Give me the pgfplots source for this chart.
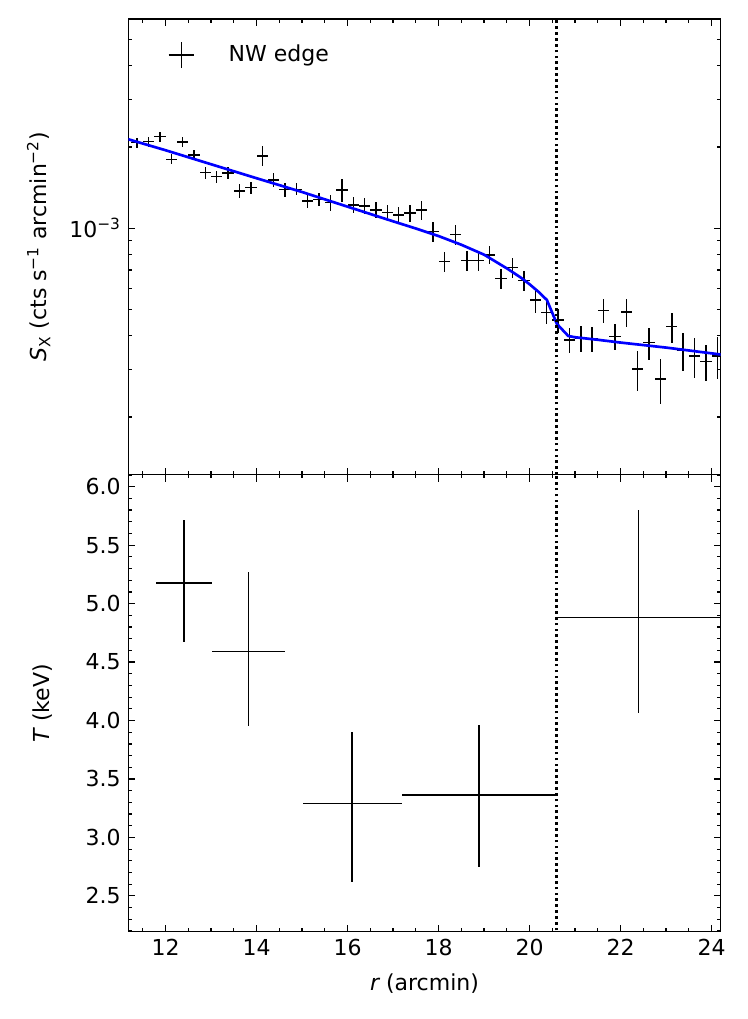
\documentclass[border=0pt]{standalone}
\usepackage{fontspec}
\setmainfont{DejaVu Sans}
\usepackage{pgfplots}
\usepackage{pgfplotstable}
\pgfplotsset{compat=1.18}

\pgfplotstableread{
x y ey
11.375 2.075e-3 0.089e-3
11.625 2.093e-3 0.089e-3
11.875 2.184e-3 0.093e-3
12.125 1.801e-3 0.077e-3
12.375 2.083e-3 0.089e-3
12.625 1.869e-3 0.080e-3
12.875 1.607e-3 0.082e-3
13.125 1.553e-3 0.080e-3
13.375 1.599e-3 0.082e-3
13.625 1.375e-3 0.082e-3
13.875 1.414e-3 0.072e-3
14.125 1.853e-3 0.158e-3
14.375 1.510e-3 0.090e-3
14.625 1.394e-3 0.083e-3
14.875 1.394e-3 0.071e-3
15.125 1.262e-3 0.075e-3
15.375 1.280e-3 0.076e-3
15.625 1.244e-3 0.085e-3
15.875 1.386e-3 0.130e-3
16.125 1.220e-3 0.083e-3
16.375 1.209e-3 0.083e-3
16.625 1.169e-3 0.080e-3
16.875 1.142e-3 0.078e-3
17.125 1.120e-3 0.076e-3
17.375 1.137e-3 0.078e-3
17.625 1.169e-3 0.095e-3
17.875 0.971e-3 0.083e-3
18.125 0.752e-3 0.064e-3
18.375 0.950e-3 0.081e-3
18.625 0.759e-3 0.065e-3
18.875 0.759e-3 0.065e-3
19.125 0.796e-3 0.061e-3
19.375 0.653e-3 0.056e-3
19.625 0.715e-3 0.061e-3
19.875 0.640e-3 0.055e-3
20.125 0.543e-3 0.056e-3
20.375 0.487e-3 0.046e-3
20.625 0.457e-3 0.047e-3
20.875 0.386e-3 0.040e-3
21.125 0.391e-3 0.042e-3
21.375 0.389e-3 0.042e-3
21.625 0.495e-3 0.051e-3
21.875 0.397e-3 0.044e-3
22.125 0.489e-3 0.058e-3
22.375 0.301e-3 0.051e-3
22.625 0.377e-3 0.052e-3
22.875 0.276e-3 0.052e-3
23.125 0.432e-3 0.055e-3
23.375 0.354e-3 0.057e-3
23.625 0.337e-3 0.057e-3
23.875 0.321e-3 0.049e-3
24.125 0.337e-3 0.060e-3
}\sxdata

\pgfplotstableread{
x y
11.18 2.136e-3
12.0 1.945e-3
13.0 1.726e-3
14.0 1.532e-3
15.0 1.362e-3
16.0 1.202e-3
17.0 1.061e-3
17.5 0.998e-3
18.0 0.9357e-3
18.5 0.8688e-3
19.0 0.7985e-3
19.5 0.7104e-3
19.8 0.6579e-3
20.0 0.6204e-3
20.2 0.5807e-3
20.38 0.5426e-3
20.6 0.4424e-3
20.85 0.3992e-3
21.0 0.3948e-3
21.5 0.3864e-3
22.0 0.3773e-3
23.0 0.3615e-3
24.2 0.3408e-3
}\modeldata

\pgfplotstableread{
x ex y yp ym
12.41 0.61 5.177 0.537 0.506
13.82 0.80 4.591 0.677 0.635
16.10 1.09 3.290 0.615 0.669
18.89 1.70 3.362 0.600 0.612
22.39 1.79 4.880 0.920 0.815
}\tdata

\pgfplotsset{
  panel/.style={
    scale only axis, width=444.3pt,
    xmin=11.18, xmax=24.2,
    tick align=inside,
    major tick length=5.25pt, minor tick length=2.8pt,
    every tick/.style={black, line width=0.9pt},
    axis line style={line width=0.9pt},
    xtick={12,14,...,24},
    minor xtick={11.5,12,...,24},
    anchor=south west,
  }
}

\begin{document}
\fontsize{16.5pt}{20pt}\selectfont
\begin{tikzpicture}
\useasboundingbox (0,0) rectangle (560.25pt,764.25pt);

% top panel
\begin{axis}[panel,
  at={(96.2pt,408.25pt)}, height=341.8pt,
  ymode=log, ymin=1.223e-4, ymax=5.96e-3,
  ytick={1e-3}, yticklabels={10\textsuperscript{−3}},
  minor ytick={2e-4,3e-4,4e-4,5e-4,6e-4,7e-4,8e-4,9e-4,2e-3,3e-3,4e-3,5e-3},
  xticklabels={},
  ylabel={{\itshape S}\textsubscript{X} (cts s\textsuperscript{−1} arcmin\textsuperscript{−2})},
  ylabel style={at={(axis description cs:-0.1513,0.5)}, anchor=center},
  legend cell align=left,
  legend style={draw=none, fill=none, at={(axis description cs:0,1)}, anchor=north west,
    xshift=29.8pt, yshift=-16.8pt, inner sep=0pt, outer sep=0pt,
    nodes={inner sep=0pt}},
]
\addplot[draw=none, mark=none,
  legend image code/.code={
    \draw[black, line width=1.1pt] (0pt,0pt)--(18.8pt,0pt) (9.4pt,-9.8pt)--(9.4pt,9.8pt);
    \path[draw=none] (0pt,0pt)--(45pt,0pt);},
  error bars/.cd, x dir=both, x fixed=0.125, y dir=both, y explicit,
  error mark=none, error bar style={draw=black, solid, line width=1.1pt}]
  table[x=x, y=y, y error=ey] {\sxdata};
\addlegendentry{NW edge}
\addplot[blue, line width=2pt, no marks, forget plot] table[x=x, y=y] {\modeldata};
\addplot[black, line width=2.1pt, dash pattern=on 2pt off 2.4pt, forget plot]
  coordinates {(20.6,1e-4) (20.6,1e-2)};
\end{axis}

% bottom panel
\begin{axis}[panel,
  at={(96.2pt,65.5pt)}, height=342.75pt,
  ymin=2.194, ymax=6.103,
  ytick={2.5,3,3.5,4,4.5,5,5.5,6},
  yticklabels={2.5,3.0,3.5,4.0,4.5,5.0,5.5,6.0},
  minor ytick={2.2,2.3,...,6.1},
  xticklabels={12,14,16,18,20,22,24},
  xlabel={{\itshape r} (arcmin)},
  xlabel style={at={(axis description cs:0.5,0)}, anchor=center, yshift=-39pt},
  ylabel={{\itshape T} (keV)},
  ylabel style={at={(axis description cs:-0.1448,0.5)}, anchor=center},
]
\addplot[draw=none, mark=none,
  error bars/.cd, x dir=both, x explicit, y dir=both, y explicit,
  error mark=none, error bar style={draw=black, solid, line width=1.1pt}]
  table[x=x, y=y, x error=ex, y error plus=yp, y error minus=ym] {\tdata};
\addplot[black, line width=2.1pt, dash pattern=on 2pt off 2.4pt, forget plot]
  coordinates {(20.6,1) (20.6,7)};
\end{axis}
\end{tikzpicture}
\end{document}
